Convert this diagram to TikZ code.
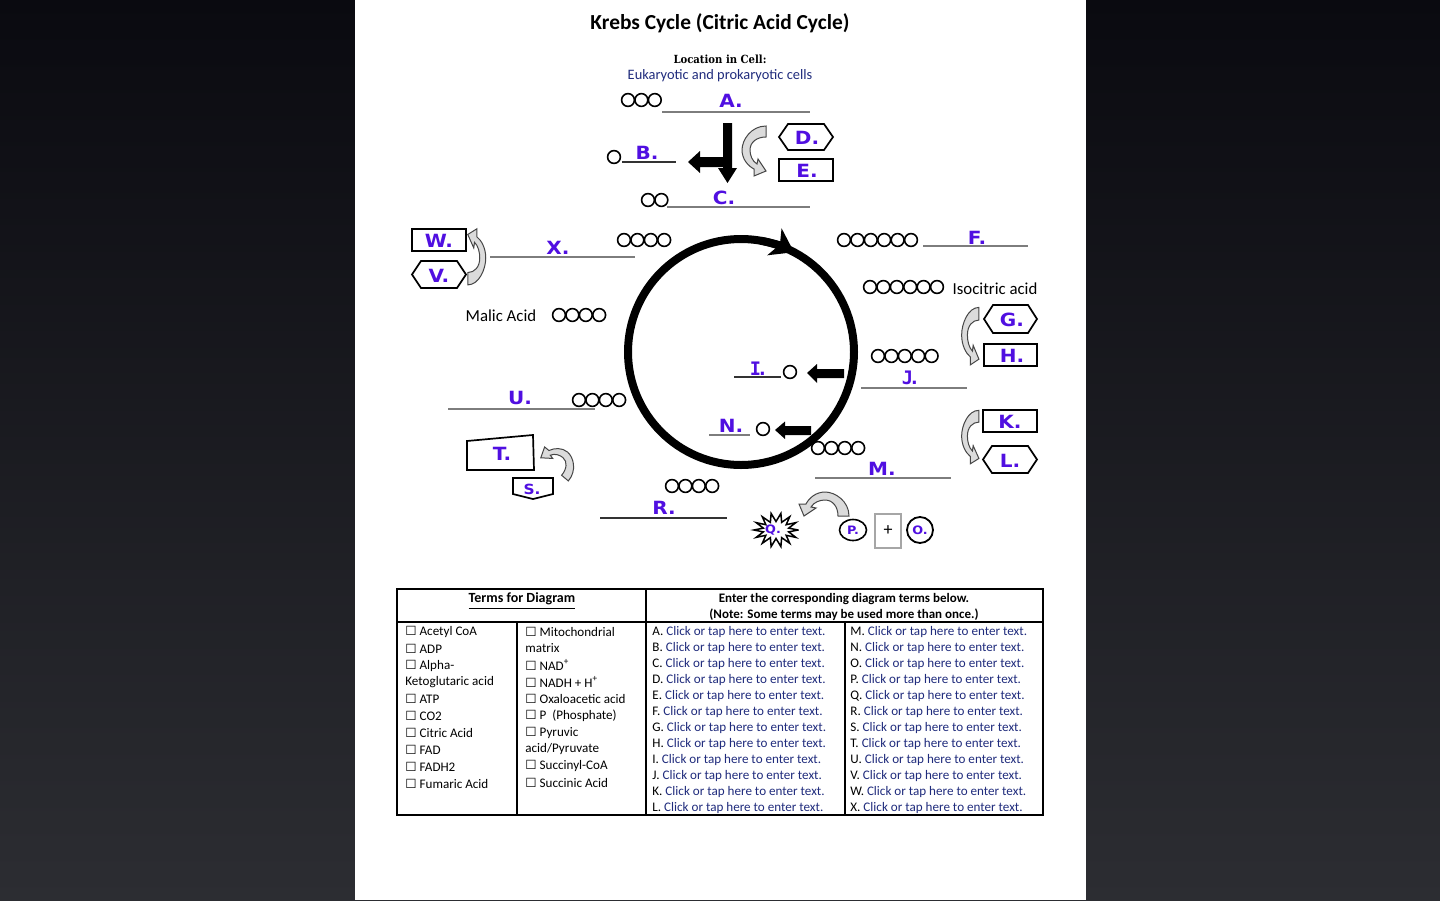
\documentclass[tikz,border=0pt]{standalone}
\usepackage{fontspec}
\setmainfont{Carlito}
\newfontfamily\lblfont[FakeStretch=1.1]{DejaVu Sans}
\newfontfamily\lblmono{DejaVu Sans Mono}
\newfontfamily\symfont{DejaVu Sans}
\newfontfamily\slabfont[FakeStretch=0.9]{DejaVu Serif}
\usetikzlibrary{arrows.meta}
\definecolor{lab}{RGB}{80,15,225}
\definecolor{navy}{RGB}{32,44,125}
\definecolor{ansgray}{RGB}{125,125,125}
\definecolor{bgtop}{RGB}{10,10,16}
\definecolor{bgbot}{RGB}{44,45,50}
\newcommand\fsz[1]{\fontsize{#1}{#1}\selectfont}
\newcommand\cbx{{\symfont\fsz{6.3}☐}\ }
\newcommand\molchain[3]{\foreach \k in {1,...,#1}{\draw[mol] ({#2+13.4*(\k-1)},#3) circle[radius=6.4];}}
\tikzset{
  curvarrow/.pic={\draw[fill=gray!28,draw=gray!55!black,line width=0.5pt]
    (11,-24) .. controls (-4,-24) and (-13,-10) .. (-13,0)
    .. controls (-13,9) and (-7,16) .. (-1,19) -- (-1,26) -- (11,21) -- (3,9) -- (2,14)
    .. controls (-3,11) and (-5,5) .. (-5,0)
    .. controls (-5,-8) and (2,-13) .. (11,-13) -- cycle;}
}
\begin{document}
\begin{tikzpicture}[x=0.5pt,y=-0.5pt,
  lbl/.style={text=lab,font=\lblfont\bfseries\fsz{9.1},inner sep=0pt},
  slbl/.style={text=lab,font=\lblfont\bfseries\fsz{5.8},inner sep=0pt},
  mlbl/.style={text=lab,font=\lblmono\bfseries\fsz{9.3},inner sep=0pt},
  mol/.style={line width=0.8pt},
  ans/.style={ansgray,line width=0.65pt},
  ansk/.style={black!80,line width=0.65pt},
  bx/.style={draw,line width=0.85pt,fill=white},
  blk/.style={fill=black},
  tcell/.style={anchor=west,font=\fsz{6.55},inner sep=0pt},
  plain/.style={font=\fsz{8.4},inner sep=0pt}]
\useasboundingbox (0,0) rectangle (1440,900);
\shade[top color=bgtop,bottom color=bgbot] (0,0) rectangle (1440,900);
\fill[white] (355,0) rectangle (1086,900);

% title
\node[font=\bfseries\fsz{10.7}] (title) at (720,23) {Krebs Cycle (Citric Acid Cycle)};
\node[font=\slabfont\bfseries\fsz{5.6},inner sep=0pt] (loc) at (720,59) {Location in Cell:};
\node[font=\fsz{7.2},text=navy,inner sep=0pt] (euk) at (720,76) {Eukaryotic and prokaryotic cells};

% A B C
\molchain{3}{628}{100}
\draw[ans] (662,112) -- (810,112);
\node[lbl] (lA) at (731,101) {A.};
\draw[mol] (614,157) circle[radius=6.4];
\draw[ansk] (622,162) -- (676,162);
\node[lbl] (lB) at (647,153) {B.};
\molchain{2}{648}{200}
\draw[ans] (667,207) -- (810,207);
\node[lbl] (lC) at (724,198) {C.};
\fill[blk] (723,123) -- (732,123) -- (732,168) -- (737,168) -- (727.5,183) -- (718,168) -- (723,168)
  -- (723,167) -- (700,167) -- (700,173) -- (688,162) -- (700,151) -- (700,157) -- (723,157) -- cycle;
\pic at (755,150) {curvarrow};
\draw[bx] (779,137) -- (788,124) -- (824,124) -- (833,137) -- (824,150) -- (788,150) -- cycle;
\node[lbl] (lD) at (807,138) {D.};
\draw[bx] (779,159) rectangle (833,181);
\node[lbl] (lE) at (807,171) {E.};

% ring
\draw[line width=4pt] (741,352) circle[radius=113];
\draw[line width=4pt,-{Stealth[length=11pt,width=15pt,inset=3pt]}] (760.6,240.7) arc[start angle=-80,end angle=-62,radius=113];

% W V X
\draw[bx] (412,229) rectangle (466,251);
\node[lbl] (lW) at (439,241) {W.};
\draw[bx] (412,274.5) -- (421,261) -- (457,261) -- (466,274.5) -- (457,288) -- (421,288) -- cycle;
\node[lbl] (lV) at (439,276) {V.};
\pic[rotate=180,xscale=0.75,yscale=1.12] at (476,258) {curvarrow};
\draw[ans] (490,257) -- (635,257);
\node[lbl] (lX) at (558,248) {X.};
\molchain{4}{624}{240}

% Malic
\node[plain] (malic) at (501,316) {Malic Acid};
\molchain{4}{559}{315}

% F, isocitric
\molchain{6}{844}{240}
\draw[ans] (923,246) -- (1028,246);
\node[lbl] (lF) at (977,238) {F.};
\molchain{6}{870}{287}
\node[plain] (iso) at (995,289) {Isocitric acid};

% G H
\draw[bx] (984,319) -- (993,305) -- (1028,305) -- (1037,319) -- (1028,333) -- (993,333) -- cycle;
\node[lbl] (lG) at (1012,320) {G.};
\draw[bx] (984,344) rectangle (1037,366);
\node[lbl] (lH) at (1012,356) {H.};
\pic[xscale=0.72,yscale=1.15] at (971,335) {curvarrow};

% J
\molchain{5}{878}{356}
\draw[ans] (861,388) -- (967,388);
\node[mlbl] (lJ) at (911,378) {J\kern-0.22em.};

% I
\draw[ansk] (734,377) -- (781,377);
\node[mlbl] (lI) at (759,369) {I\kern-0.22em.};
\draw[mol] (790,372) circle[radius=6.4];
\fill[blk] (807,373) -- (817,364) -- (817,369) -- (844,369) -- (844,378) -- (817,378) -- (817,383) -- cycle;

% N
\draw[ans] (709,435) -- (750,435);
\node[lbl] (lN) at (731,426) {N.};
\draw[mol] (763,429) circle[radius=6.4];
\fill[blk] (775,430) -- (785,421.5) -- (785,426) -- (811,426) -- (811,435) -- (785,435) -- (785,439) -- cycle;

% M
\molchain{4}{818}{448}
\draw[ans] (815,478) -- (951,478);
\node[lbl] (lM) at (882,469) {M.};

% K L
\draw[bx] (983,410) rectangle (1037,432);
\node[lbl] (lK) at (1010,422) {K.};
\draw[bx] (983,459.5) -- (992,446) -- (1028,446) -- (1037,459.5) -- (1028,473) -- (992,473) -- cycle;
\node[lbl] (lL) at (1010,461) {L.};
\pic[xscale=0.72,yscale=1.07] at (971,436) {curvarrow};

% U
\draw[ans] (448,409) -- (595,409);
\node[lbl] (lU) at (520,398) {U.};
\molchain{4}{579}{400}

% T S
\draw[bx] (467,441) -- (533,435) -- (534,470) -- (467,470) -- cycle;
\node[lbl] (lT) at (502,454) {T.};
\draw[bx] (513,478) -- (553,478) -- (553,494) -- (533,499) -- (513,494) -- cycle;
\node[lbl,font=\lblfont\bfseries\fsz{7}] (lS) at (532,489) {S.};
\pic[rotate=-130,xscale=0.9,yscale=0.8] at (560,461) {curvarrow};

% R
\molchain{4}{672}{486}
\draw[ansk] (600,518) -- (727,518);
\node[lbl] (lR) at (664,508) {R.};

% Q P O
\draw[line width=0.75pt,fill=white] (798,530) \foreach \k in {0,2,...,26} {
  -- ({776+13*cos((\k+1)*12.857)},{530+8.5*sin((\k+1)*12.857)})
  -- ({776+22*cos((\k+2)*12.857)},{530+17*sin((\k+2)*12.857)}) } -- cycle;
\node[slbl] (lQ) at (773,530) {Q.};
\pic[rotate=-90] at (825,505) {curvarrow};
\draw[line width=0.8pt] (853,530) ellipse[x radius=13.5,y radius=10.5];
\node[slbl] (lP) at (853,530) {P.};
\draw[gray!70,line width=0.6pt] (875,514) rectangle (901,548);
\node[font=\fsz{9},inner sep=0pt] (plus) at (888,531) {+};
\draw[line width=0.9pt] (920,530) circle[radius=13];
\node[slbl] (lO) at (920,530) {O.};

% table
\draw[line width=0.75pt] (397,589) rectangle (1043,815);
\draw[line width=0.75pt] (646,589) -- (646,815);
\draw[line width=0.75pt] (397,622) -- (1043,622);
\draw[line width=0.75pt] (517,622) -- (517,815);
\draw[line width=0.75pt] (845,622) -- (845,815);
\node[font=\bfseries\fsz{7}] (hdr1) at (522,601) {\underline{Terms for Diagram}};
\node[font=\bfseries\fontsize{6.5}{8}\selectfont,align=center,inner sep=0pt] (hdr2) at (844,607)
  {Enter the corresponding diagram terms below.\\(Note: Some terms may be used more than once.)};

\node[tcell] (t01) at (405,632) {\cbx Acetyl CoA};
\node[tcell] (t02) at (405,649) {\cbx ADP};
\node[tcell] (t03) at (405,666) {\cbx Alpha-};
\node[tcell] (t04) at (405,682) {Ketoglutaric acid};
\node[tcell] (t05) at (405,699) {\cbx ATP};
\node[tcell] (t06) at (405,716) {\cbx CO2};
\node[tcell] (t07) at (405,733) {\cbx Citric Acid};
\node[tcell] (t08) at (405,750) {\cbx FAD};
\node[tcell] (t09) at (405,767) {\cbx FADH2};
\node[tcell] (t10) at (405,784) {\cbx Fumaric Acid};

\node[tcell] (u01) at (525,632) {\cbx Mitochondrial};
\node[tcell] (u02) at (525,648) {matrix};
\node[tcell] (u03) at (525,665) {\cbx NAD\textsuperscript{+}};
\node[tcell] (u04) at (525,682) {\cbx NADH + H\textsuperscript{+}};
\node[tcell] (u05) at (525,699) {\cbx Oxaloacetic acid};
\node[tcell] (u06) at (525,716) {\cbx P\ \ (Phosphate)};
\node[tcell] (u07) at (525,733) {\cbx Pyruvic};
\node[tcell] (u08) at (525,749) {acid/Pyruvate};
\node[tcell] (u09) at (525,766) {\cbx Succinyl-CoA};
\node[tcell] (u10) at (525,783) {\cbx Succinic Acid};

\foreach \L [count=\i from 0] in {A,B,C,D,E,F,G,H,I,J,K,L}
  {\node[tcell] (ra\L) at (652,{632+16*\i}) {\L. \textcolor{navy}{Click or tap here to enter text.}};}
\foreach \L [count=\i from 0] in {M,N,O,P,Q,R,S,T,U,V,W,X}
  {\node[tcell] (rb\L) at (850,{632+16*\i}) {\L. \textcolor{navy}{Click or tap here to enter text.}};}
\end{tikzpicture}
\end{document}
